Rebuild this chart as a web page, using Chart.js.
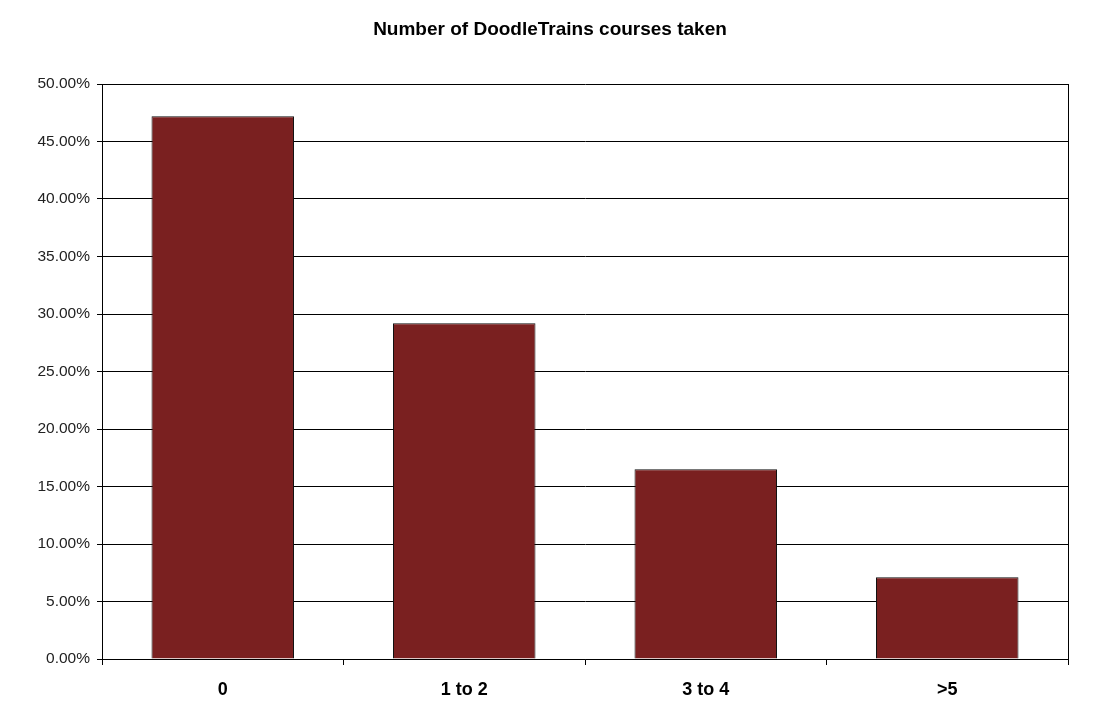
<!DOCTYPE html>
<html lang="en">
<head>
    <meta charset="UTF-8">
    <title>Number of DoodleTrains courses taken</title>
    <script src="https://cdn.jsdelivr.net/npm/chart.js"></script>
    <style>
        body { margin: 0; background: #fff; }
        #wrap { width: 1100px; height: 720px; }
    </style>
</head>
<body>
    <div id="wrap"><canvas id="coursesChart"></canvas></div>

    <script>
        const categories = ['0', '1 to 2', '3 to 4', '>5'];
        const shares = [47.2, 29.2, 16.5, 7.1];
        const yTicks = [0, 5, 10, 15, 20, 25, 30, 35, 40, 45, 50];

        // frame on the right edge of the plot area
        const frame = {
            id: 'frame',
            afterDraw(chart) {
                const { ctx, chartArea } = chart;
                ctx.save();
                ctx.strokeStyle = '#000';
                ctx.lineWidth = 1;
                ctx.beginPath();
                ctx.moveTo(Math.round(chartArea.right) + 0.5, chartArea.top);
                ctx.lineTo(Math.round(chartArea.right) + 0.5, chartArea.bottom + 6);
                ctx.stroke();
                ctx.restore();
            }
        };

        new Chart(document.getElementById('coursesChart'), {
            type: 'bar',
            data: {
                labels: categories,
                datasets: [{
                    label: 'Share',
                    data: shares,
                    backgroundColor: '#7a2020',
                    borderColor: '#111',
                    borderWidth: 1,
                    categoryPercentage: 1,
                    barPercentage: 0.59
                }]
            },
            options: {
                responsive: true,
                maintainAspectRatio: false,
                animation: false,
                layout: { padding: 0 },
                plugins: {
                    legend: { display: false },
                    tooltip: { enabled: false },
                    title: {
                        display: true,
                        text: 'Number of DoodleTrains courses taken',
                        color: '#000',
                        font: { family: 'Arial, "Liberation Sans"', size: 19, weight: 'bold' },
                        padding: { top: 18, bottom: 43.2 }
                    }
                },
                scales: {
                    x: {
                        offset: true,
                        grid: {
                            display: true,
                            offset: true,
                            drawOnChartArea: false,
                            drawTicks: true,
                            tickLength: 6,
                            color: '#000'
                        },
                        border: { color: '#000', width: 1 },
                        ticks: {
                            color: '#000',
                            padding: 14,
                            font: { family: 'Arial, "Liberation Sans"', size: 18, weight: 'bold' }
                        },
                        afterFit(scale) { scale.height = 61; }
                    },
                    y: {
                        min: 0,
                        max: 50,
                        afterBuildTicks(scale) { scale.ticks = yTicks.map(v => ({ value: v })); },
                        grid: { color: '#000', tickLength: 5, drawTicks: true },
                        border: { color: '#000', width: 1 },
                        ticks: {
                            color: '#222',
                            padding: 7,
                            font: { family: 'Arial, "Liberation Sans"', size: 15.5 },
                            callback: v => v.toFixed(2) + '%'
                        },
                        afterFit(scale) { scale.width = 102; }
                    },
                    // empty right-hand strip so the title stays centred on the page
                    yRight: {
                        position: 'right',
                        min: 0,
                        max: 50,
                        grid: { display: false },
                        border: { display: false },
                        ticks: { display: false },
                        afterFit(scale) { scale.width = 32; }
                    }
                }
            },
            plugins: [frame]
        });
    </script>
</body>
</html>
